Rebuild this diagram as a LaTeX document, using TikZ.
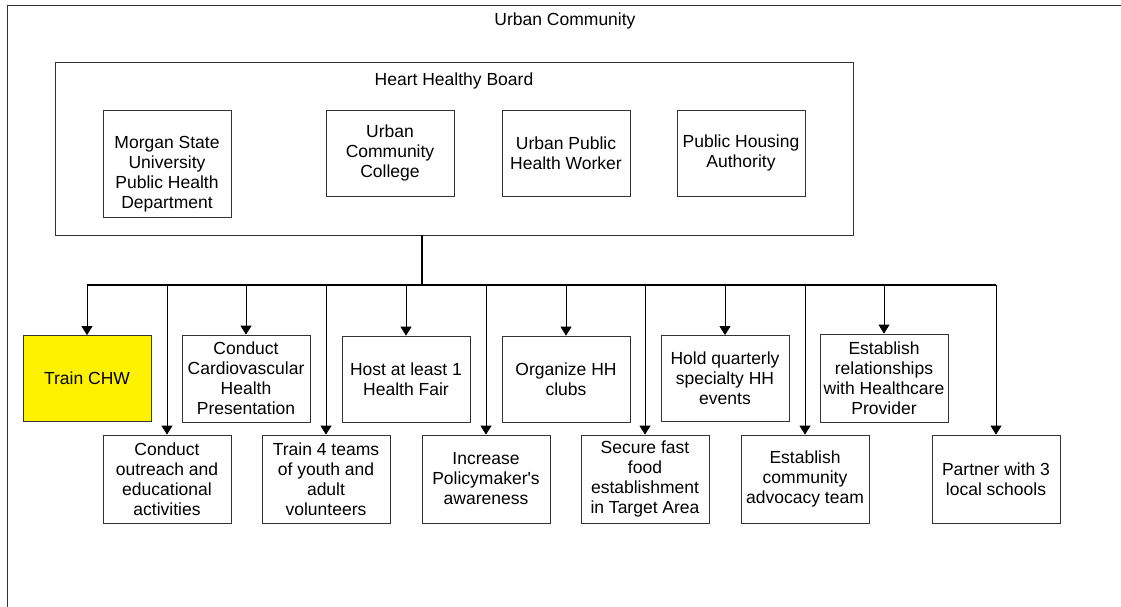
\documentclass[tikz,border=0pt]{standalone}
\usepackage{fontspec}
\setmainfont{Liberation Sans}
\usetikzlibrary{arrows.meta}
\begin{document}
\begin{tikzpicture}[x=1pt,y=-1pt,
  every node/.style={font=\fontsize{17.5}{20}\selectfont, inner sep=0pt, align=center},
  box/.style={draw=black!80, line width=0.8pt, fill=white, minimum width=128pt},
  frame/.style={draw=black!80, line width=0.8pt},
  stem/.style={draw=black, line width=0.8pt, -{Triangle[width=11pt,length=9pt]}},
  bus/.style={draw=black, line width=1.4pt}]
\useasboundingbox (0,0) rectangle (1121,607);
\clip (0,0) rectangle (1121,607);
\fill[white] (0,0) rectangle (1121,607);

% community frame (runs off the right and bottom edges)
\node[frame, anchor=north west, minimum width=1300pt, minimum height=800pt] (community) at (7,5.3) {};
\node (communitytitle) at (565,21) {Urban Community};

% board and its members
\node[frame, minimum width=798pt, minimum height=172.3pt] (board) at (454,148.8) {};
\node (boardtitle) at (454,81) {Heart Healthy Board};
\node[box, minimum height=107pt] (msu) at (167,163.5) {};
\node (msutext) at (167,174) {Morgan State\\University\\Public Health\\Department};
\node[box, minimum height=86pt] (ucc) at (390,153) {Urban\\Community\\College};
\node[box, minimum height=86pt] (uphw) at (566,153) {Urban Public\\Health Worker};
\node[box, minimum height=86pt] (pha) at (741,153) {Public Housing\\Authority};

% activities, upper row
\node[box, minimum height=86pt, fill=yellow] (chw) at (87,378.5) {Train CHW};
\node[box, minimum height=87pt] (cvh) at (246,378.5) {Conduct\\Cardiovascular\\Health\\Presentation};
\node[box, minimum height=86pt] (fair) at (406,379) {Host at least 1\\Health Fair};
\node[box, minimum height=86pt] (clubs) at (566,379) {Organize HH\\clubs};
\node[box, minimum height=86pt] (events) at (725,378.5) {Hold quarterly\\specialty HH\\events};
\node[box, minimum height=88pt] (rel) at (884,378) {Establish\\relationships\\with Healthcare\\Provider};

% activities, lower row
\node[box, minimum height=88pt] (outreach) at (167,479) {Conduct\\outreach and\\educational\\activities};
\node[box, minimum height=88pt] (teams) at (326,479) {Train 4 teams\\of youth and\\adult\\volunteers};
\node[box, minimum height=88pt] (aware) at (486,479) {Increase\\Policymaker\textquotesingle s\\awareness};
\node[box, minimum height=88pt] (food) at (645,479) {Secure fast\\food\\establishment\\in Target Area};
\node[box, minimum height=88pt] (advocacy) at (805,479) {Establish\\community\\advocacy team};
\node[box, minimum height=88pt] (schools) at (996,479) {Partner with 3\\local schools};

% connectors
\coordinate (hub) at (422,285);
\draw[bus] (hub |- board.south) -- (hub);
\draw[bus] (chw.north |- hub) -- (schools.north |- hub);
\foreach \n in {chw,outreach,cvh,teams,fair,aware,clubs,food,events,advocacy,rel,schools}
  \draw[stem] (\n.north |- hub) -- (\n.north);
\end{tikzpicture}
\end{document}
